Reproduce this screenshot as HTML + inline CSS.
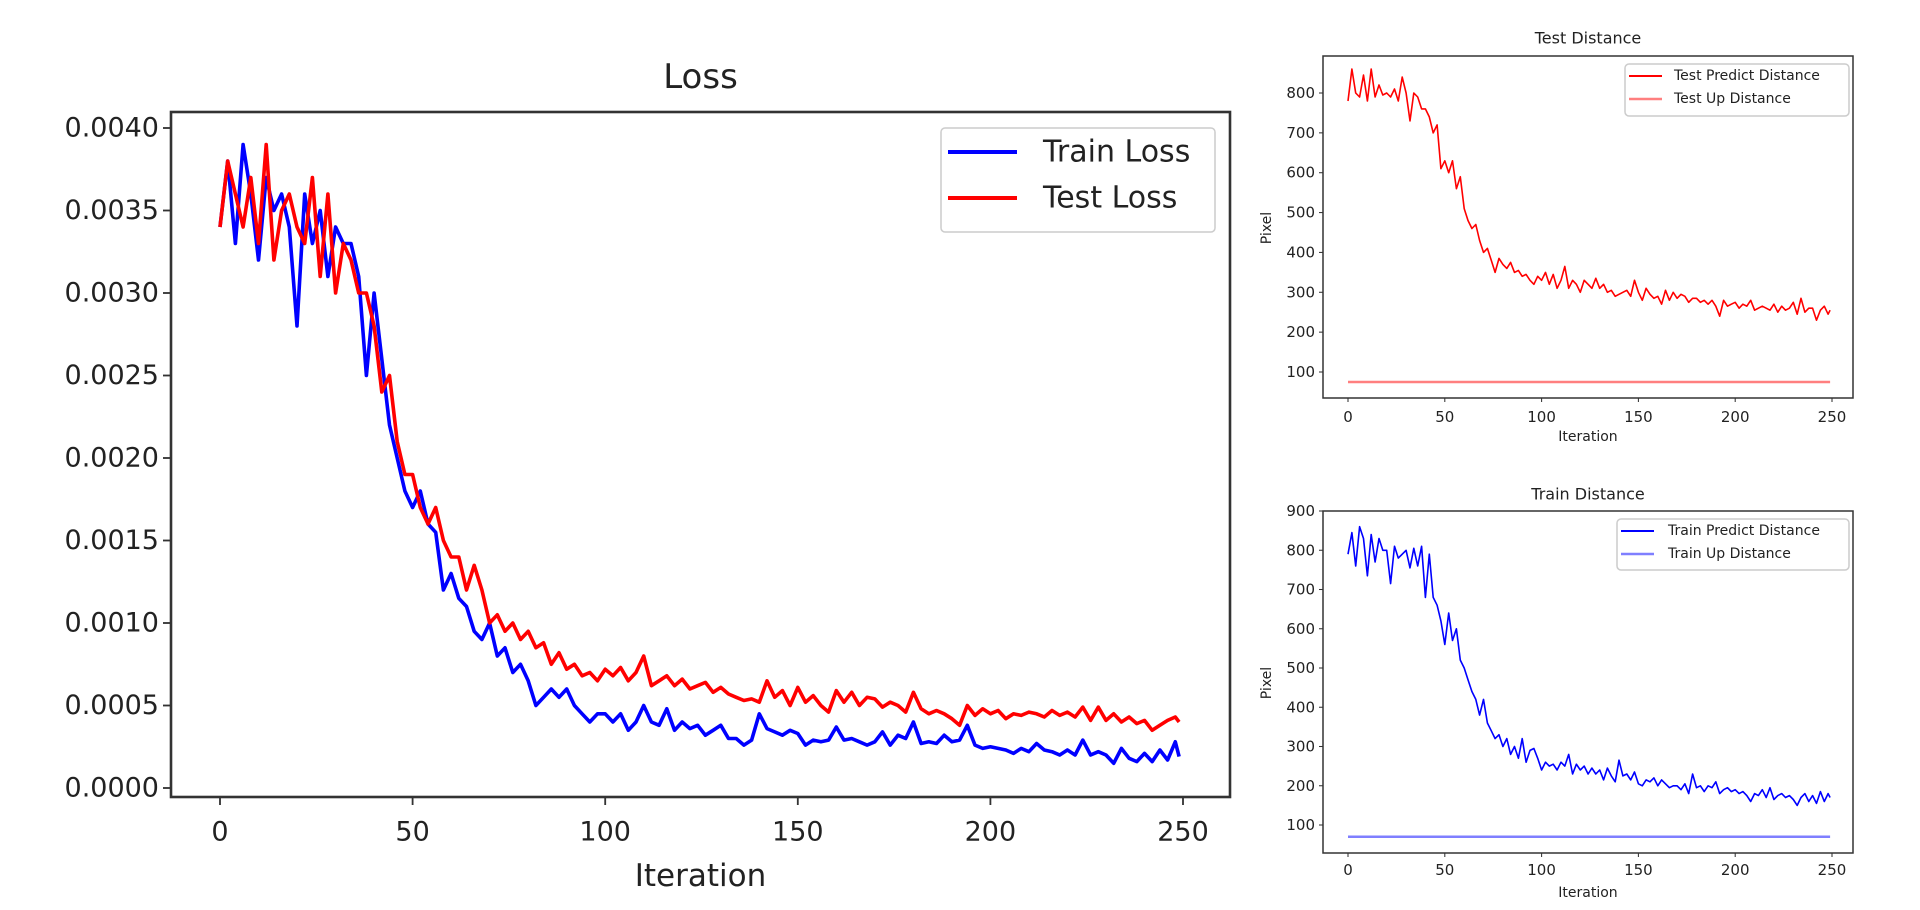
<!DOCTYPE html>
<html><head><meta charset="utf-8"><style>
html,body{margin:0;padding:0;background:#fff;}
svg{display:block;}
text{font-family:"DejaVu Sans","Liberation Sans",sans-serif;fill:#222;}
</style></head><body>
<svg id="root" xmlns="http://www.w3.org/2000/svg" width="1920" height="910" viewBox="0 0 1920 910"></svg>
<script>
// ---------- data (loss values in units of 1e-4, sampled every 2 iterations, last = 249) ----------
const trainLossE4 = [34,38,33,39,36,32,37,35,36,34, 28,36,33,35,31,34,33,33,31,25, 30,26,22,20,18,17,18,16,15.5,12,
 13,11.5,11,9.5,9,10,8,8.5,7,7.5, 6.5,5,5.5,6,5.5,6,5,4.5,4,4.5, 4.5,4,4.5,3.5,4,5,4,3.8,4.8,3.5,
 4,3.6,3.8,3.2,3.5,3.8,3,3,2.6,2.9, 4.5,3.6,3.4,3.2,3.5,3.3,2.6,2.9,2.8,2.9, 3.7,2.9,3,2.8,2.6,2.8,3.4,2.6,3.2,3,
 4,2.7,2.8,2.7,3.2,2.8,2.9,3.8,2.6,2.4, 2.5,2.4,2.3,2.1,2.4,2.2,2.7,2.3,2.2,2, 2.3,2,2.9,2,2.2,2,1.5,2.4,1.8,1.6,
 2.1,1.6,2.3,1.7,2.8,1.9];
const testLossE4 = [34,38,36,34,37,33,39,32,35,36, 34,33,37,31,36,30,33,32,30,30, 28,24,25,21,19,19,17,16,17,15,
 14,14,12,13.5,12,10,10.5,9.5,10,9, 9.5,8.5,8.8,7.5,8.2,7.2,7.5,6.8,7,6.5, 7.2,6.8,7.3,6.5,7,8,6.2,6.5,6.8,6.2,
 6.6,6,6.2,6.4,5.8,6.1,5.7,5.5,5.3,5.4, 5.2,6.5,5.5,5.9,5,6.1,5.2,5.6,5,4.6, 5.9,5.2,5.8,5,5.5,5.4,4.9,5.2,5,4.6,
 5.8,4.8,4.5,4.7,4.5,4.2,3.8,5,4.4,4.8, 4.5,4.7,4.2,4.5,4.4,4.6,4.5,4.3,4.7,4.4, 4.6,4.3,4.9,4.1,4.9,4.1,4.5,4,4.3,3.9,
 4.1,3.5,3.8,4.1,4.3,4];
const testPredictDist = [780,860,800,790,845,780,860,790,820,795, 800,790,810,780,840,800,730,800,790,760,
 760,740,700,720,610,630,600,630,560,590, 510,480,460,470,430,400,410,380,350,385, 370,360,375,350,355,340,345,330,320,340,
 330,350,320,345,310,330,365,310,330,320, 300,330,320,310,335,310,320,300,305,290, 295,300,305,290,330,300,280,310,295,285,
 290,270,305,280,300,285,295,290,275,285, 285,275,280,270,280,265,240,280,265,270, 275,260,270,265,280,255,260,265,260,255,
 270,250,265,255,260,275,245,285,250,260, 260,230,255,265,245,255];
const trainPredictDist = [790,845,760,860,830,735,840,770,830,800, 800,715,810,780,790,800,755,805,760,810,
 680,790,680,660,620,560,640,570,600,520, 500,470,440,420,380,420,360,340,320,330, 300,320,280,300,270,320,260,290,295,270,
 240,260,250,255,240,260,250,280,230,255, 240,250,230,245,230,240,215,245,225,210, 265,225,230,215,235,205,200,215,210,220,
 200,215,205,195,200,200,190,205,180,230, 195,200,185,200,195,210,180,190,195,185, 190,180,185,175,160,180,175,190,170,195,
 165,175,180,170,175,165,150,170,180,160, 175,155,185,160,180,170];
const upIters = [0,249];
const testUpDist = [75,75];
const trainUpDist = [70,70];
const xTicks = [0,50,100,150,200,250];
const lossTicks = [0,0.0005,0.001,0.0015,0.002,0.0025,0.003,0.0035,0.004];
const testDistTicks = [100,200,300,400,500,600,700,800];
const trainDistTicks = [100,200,300,400,500,600,700,800,900];

const NS = "http://www.w3.org/2000/svg";
const root = document.getElementById('root');
function mk(tag, attrs, parent){ const e=document.createElementNS(NS,tag); for(const k in attrs) e.setAttribute(k,attrs[k]); (parent||root).appendChild(e); return e; }
function iterOf(i){ return Math.min(i*2,249); }

function chart(cfg){
  const g = mk('g',{});
  
  
  const X = v => cfg.x0px + (v - 0) * (cfg.x250px - cfg.x0px) / 250;
  const Y = v => cfg.yA.px + (v - cfg.yA.v) * (cfg.yB.px - cfg.yA.px) / (cfg.yB.v - cfg.yA.v);
  const t = mk('text',{x:(cfg.L+cfg.R)/2, y:cfg.titleY, 'text-anchor':'middle','dominant-baseline':'central','font-size':cfg.titleFs}, g);
  t.textContent = cfg.title;
  
  
  cfg.series.forEach(s=>{
    const pts = s.values.map((v,i)=> X(s.iters?s.iters[i]:iterOf(i)).toFixed(1)+','+Y(s.scale?v*s.scale:v).toFixed(1)).join(' ');
    const p = mk('polyline',{points:pts, fill:'none', stroke:s.color, 'stroke-width':s.w, 'stroke-linejoin':'round', 'stroke-opacity':s.op||1}, g);
    
    
  });
  const fr = mk('rect',{x:cfg.L, y:cfg.T, width:cfg.R-cfg.L, height:cfg.B-cfg.T, fill:'none', stroke:'#333', 'stroke-width':cfg.frameW}, g);
  
  
  xTicks.forEach(v=>{
    const x = X(v);
    mk('line',{x1:x,x2:x,y1:cfg.B,y2:cfg.B+cfg.tickLen,stroke:'#333','stroke-width':cfg.frameW*0.7}, g);
    const lt = mk('text',{x:x, y:cfg.xLabY, 'text-anchor':'middle','dominant-baseline':'central','font-size':cfg.tickFs}, g);
    lt.textContent = v;
    
    
  });
  cfg.yTicks.forEach(v=>{
    const y = Y(v);
    mk('line',{x1:cfg.L-cfg.tickLen,x2:cfg.L,y1:y,y2:y,stroke:'#333','stroke-width':cfg.frameW*0.7}, g);
    const lt = mk('text',{x:cfg.L-cfg.tickLen-4, y:y, 'text-anchor':'end','dominant-baseline':'central','font-size':cfg.tickFs}, g);
    lt.textContent = cfg.yFmt(v);
    
    
  });
  const xl = mk('text',{x:(cfg.L+cfg.R)/2, y:cfg.xTitleY, 'text-anchor':'middle','dominant-baseline':'central','font-size':cfg.axisFs}, g);
  xl.textContent = 'Iteration';
  
  
  if (cfg.yTitle){
    const yl = mk('text',{x:cfg.yTitleX, y:cfg.yTitleY, 'text-anchor':'middle','dominant-baseline':'central','font-size':cfg.axisFs, transform:`rotate(-90 ${cfg.yTitleX} ${cfg.yTitleY})`}, g);
    yl.textContent = cfg.yTitle;
    
    
  }
  const lg = cfg.legend;
  const lb = mk('rect',{x:lg.x1, y:lg.y1, width:lg.x2-lg.x1, height:lg.y2-lg.y1, rx:4, fill:'#fff', 'fill-opacity':0.8, stroke:'#ccc','stroke-width':1.5}, g);
  
  
  lg.items.forEach((it,k)=>{
    const y = lg.rows[k];
    mk('line',{x1:lg.s1,x2:lg.s2,y1:y,y2:y,stroke:it.color,'stroke-width':it.w,'stroke-opacity':it.op||1}, g);
    const tx = mk('text',{x:lg.tx, y:y, 'dominant-baseline':'central','font-size':lg.fs}, g);
    tx.textContent = it.label;
    
    
  });
}

chart({name:'loss-chart', title:'Loss', titleY:77, titleFs:34,
  L:171, R:1230, T:112, B:797, frameW:2.6, tickLen:8, tickFs:27, axisFs:31,
  x0px:220, x250px:1183, yA:{v:0,px:788}, yB:{v:0.004,px:128},
  xLabY:832, xTitleY:876, yTicks:lossTicks, yFmt:v=>v.toFixed(4),
  series:[{id:'train-loss-line', values:trainLossE4, scale:1e-4, color:'#0000ff', w:3.6},
          {id:'test-loss-line', values:testLossE4, scale:1e-4, color:'#ff0000', w:3.6}],
  legend:{x1:941,x2:1215,y1:128,y2:232,s1:948,s2:1017,tx:1043,rows:[152,198],fs:30,
    items:[{label:'Train Loss',color:'#0000ff',w:4},{label:'Test Loss',color:'#ff0000',w:4}]}
});

chart({name:'test-distance-chart', title:'Test Distance', titleY:38, titleFs:16,
  L:1323, R:1853, T:56, B:398, frameW:1.5, tickLen:4, tickFs:15, axisFs:14,
  x0px:1348, x250px:1832, yA:{v:100,px:372}, yB:{v:800,px:93},
  xLabY:417, xTitleY:437, yTicks:testDistTicks, yFmt:v=>v, yTitle:'Pixel', yTitleX:1267, yTitleY:228,
  series:[{id:'test-up-distance-line', values:testUpDist, iters:upIters, color:'#ff0000', w:2.5, op:0.5},
          {id:'test-predict-distance-line', values:testPredictDist, color:'#ff0000', w:1.6}],
  legend:{x1:1625,x2:1849,y1:64,y2:116,s1:1629,s2:1662,tx:1674,rows:[76,99],fs:14,
    items:[{label:'Test Predict Distance',color:'#ff0000',w:2},{label:'Test Up Distance',color:'#ff0000',w:2.5,op:0.5}]}
});

chart({name:'train-distance-chart', title:'Train Distance', titleY:494, titleFs:16,
  L:1323, R:1853, T:511, B:853, frameW:1.5, tickLen:4, tickFs:15, axisFs:14,
  x0px:1348, x250px:1832, yA:{v:100,px:825}, yB:{v:900,px:511},
  xLabY:870, xTitleY:893, yTicks:trainDistTicks, yFmt:v=>v, yTitle:'Pixel', yTitleX:1267, yTitleY:683,
  series:[{id:'train-up-distance-line', values:trainUpDist, iters:upIters, color:'#0000ff', w:2.5, op:0.5},
          {id:'train-predict-distance-line', values:trainPredictDist, color:'#0000ff', w:1.6}],
  legend:{x1:1617,x2:1849,y1:519,y2:570,s1:1621,s2:1654,tx:1668,rows:[531,554],fs:14,
    items:[{label:'Train Predict Distance',color:'#0000ff',w:2},{label:'Train Up Distance',color:'#0000ff',w:2.5,op:0.5}]}
});
</script>
</body></html>
